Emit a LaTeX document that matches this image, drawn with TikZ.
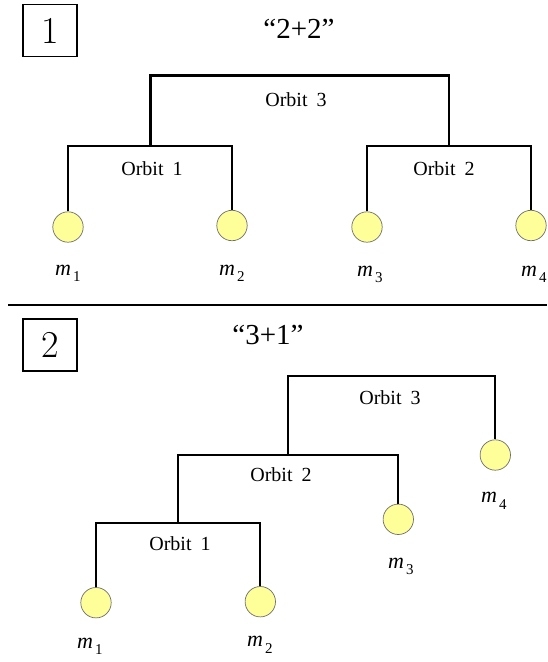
\documentclass[tikz,border=0pt]{standalone}
\usepackage{fontspec}
\setmainfont{Liberation Serif}
\definecolor{massyellow}{RGB}{255,255,153}
\definecolor{massedge}{RGB}{110,110,110}
\tikzset{
  mass/.style={circle, draw=massedge, line width=0.7pt, fill=massyellow, minimum size=30.4pt, inner sep=0pt},
  bar/.style={line width=2.2pt},
  orb/.style={anchor=base, inner sep=0pt, font=\fontsize{20}{20}\selectfont},
  lbl/.style={anchor=base west, inner sep=0pt, font=\fontsize{22}{22}\selectfont\itshape},
  numbox/.style={draw, line width=1.4pt, minimum width=54pt, minimum height=52pt, inner sep=0pt, font=\usefont{TU}{lmr}{m}{n}\fontsize{38}{38}\selectfont},
  title/.style={anchor=base, inner sep=0pt, font=\fontsize{29}{29}\selectfont},
  sep/.style={line width=2pt}
}
\newcommand{\msub}[1]{m\hspace{2pt}\raisebox{-6.5pt}{\upshape\fontsize{15}{15}\selectfont #1}}
\begin{document}
\begin{tikzpicture}[x=1pt,y=-1pt]
\useasboundingbox (0,0) rectangle (547,662);
% ---------- panel 1 ----------
\node[numbox] (box1) at (50,30.5) {1};
\node[title] (t1) at (299,38.5) {“2+2”};
\node[mass] (a1) at (68,227) {};
\node[mass] (a2) at (232,225.5) {};
\node[mass] (a3) at (367,227) {};
\node[mass] (a4) at (531,225.5) {};
\coordinate (ao1) at (150.5,146);
\coordinate (ao2) at (449,146);
\coordinate (ao3) at (300,75.5);
\draw[bar] (a1.north) |- (ao1) -| (a2.north);
\draw[bar] (a3.north) |- (ao2) -| (a4.north);
\draw[bar] (ao1) |- (ao3) -| (ao2);
\node[orb] (al3) at (296,106) {Orbit\hspace{0.45em}3};
\node[orb] (al1) at (152,175) {Orbit\hspace{0.45em}1};
\node[orb] (al2) at (444,175) {Orbit\hspace{0.45em}2};
\node[lbl] (am1) at (55,275) {\msub{1}};
\node[lbl] (am2) at (219,275) {\msub{2}};
\node[lbl] (am3) at (357,276) {\msub{3}};
\node[lbl] (am4) at (521,276) {\msub{4}};
% ---------- separator ----------
\coordinate (sepL) at (8,305);
\coordinate (sepR) at (547,305);
\draw[sep] (sepL) -- (sepR);
% ---------- panel 2 ----------
\node[numbox] (box2) at (50,345) {2};
\node[title] (t2) at (268,344) {“3+1”};
\node[mass] (b1) at (96,602.7) {};
\node[mass] (b2) at (260.3,601.7) {};
\node[mass] (b3) at (398.3,519.3) {};
\node[mass] (b4) at (495.3,455) {};
\coordinate (bo1) at (178.3,523.3);
\coordinate (bo2) at (288.3,455);
\coordinate (bo3) at (391,375.7);
\draw[bar] (b1.north) |- (bo1) -| (b2.north);
\draw[bar] (bo1) |- (bo2) -| (b3.north);
\draw[bar] (bo2) |- (bo3) -| (b4.north);
\node[orb] (bl3) at (390,404) {Orbit\hspace{0.45em}3};
\node[orb] (bl2) at (281,481.7) {Orbit\hspace{0.45em}2};
\node[orb] (bl1) at (180,550.7) {Orbit\hspace{0.45em}1};
\node[lbl] (bm1) at (77,648) {\msub{1}};
\node[lbl] (bm2) at (247,646.7) {\msub{2}};
\node[lbl] (bm3) at (388,568) {\msub{3}};
\node[lbl] (bm4) at (481,502.7) {\msub{4}};
\end{tikzpicture}
\end{document}
